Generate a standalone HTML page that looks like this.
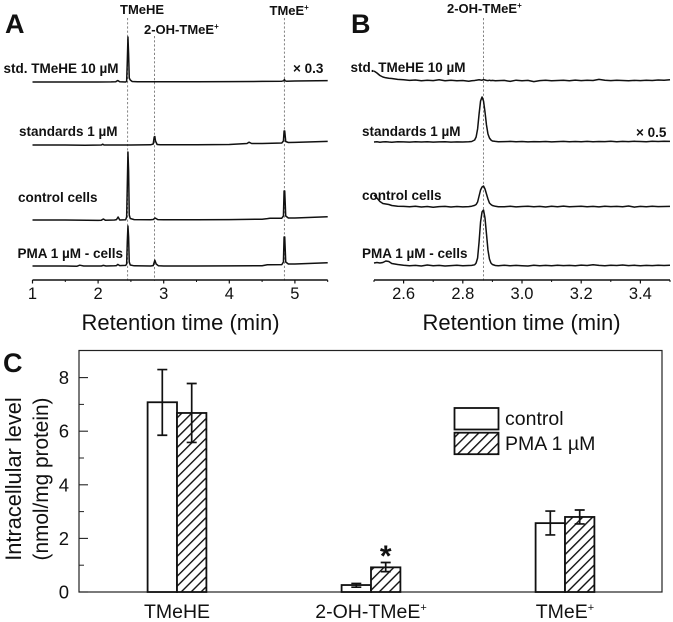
<!DOCTYPE html>
<html>
<head>
<meta charset="utf-8">
<title>Retention time chromatograms and intracellular levels</title>
<style>
html,body{margin:0;padding:0;background:#fff;width:673px;height:622px;overflow:hidden}
svg{display:block}
text{font-family:"Liberation Sans",sans-serif;fill:#111}
.b{font-weight:bold;font-size:13.5px}
.top{font-weight:bold;font-size:13px}
.tick{font-size:16.5px;text-anchor:middle}
.title{font-size:22px}
.letter{font-weight:bold;font-size:27px}
.c{font-size:19.5px}
</style>
</head>
<body>
<svg id="fig" xmlns="http://www.w3.org/2000/svg" width="673" height="622" viewBox="0 0 673 622">
<defs>
<pattern id="hatch" patternUnits="userSpaceOnUse" width="7" height="7" patternTransform="rotate(45)">
<rect width="7" height="7" fill="#fff"></rect>
<line x1="0" y1="0" x2="0" y2="7" stroke="#111" stroke-width="2.8"></line>
</pattern>
</defs>
<g id="panelA"></g>
<g id="panelB"></g>
<g id="panelC"></g>

<text class="letter" x="5" y="33">A</text>
<text class="top" x="120" y="14">TMeHE</text>
<text class="top" x="144" y="34">2-OH-TMeE<tspan font-size="8" dy="-5">+</tspan></text>
<text class="top" x="269.5" y="15">TMeE<tspan font-size="8" dy="-5">+</tspan></text>
<text class="b" x="3.5" y="73">std. TMeHE 10 µM</text>
<text class="b" x="293" y="73">× 0.3</text>
<text class="b" x="19" y="136">standards 1 µM</text>
<text class="b" x="18" y="202">control cells</text>
<text class="b" x="17.5" y="258">PMA 1 µM - cells</text>
<text class="title" x="81.5" y="330">Retention time (min)</text>

<text class="letter" x="351" y="33">B</text>
<text class="top" x="447" y="13">2-OH-TMeE<tspan font-size="8" dy="-5">+</tspan></text>
<text class="b" x="350.5" y="72">std. TMeHE 10 µM</text>
<text class="b" x="362" y="136">standards 1 µM</text>
<text class="b" x="636" y="137">× 0.5</text>
<text class="b" x="362" y="200">control cells</text>
<text class="b" x="362" y="258">PMA 1 µM - cells</text>
<text class="title" x="422.5" y="330">Retention time (min)</text>

<text class="letter" x="3" y="372">C</text>
<text font-size="21.8" text-anchor="middle" transform="translate(21,479) rotate(-90)">Intracellular level</text>
<text font-size="20.8" text-anchor="middle" transform="translate(48,479) rotate(-90)">(nmol/mg protein)</text>
<text font-size="30" font-weight="bold" text-anchor="middle" x="385.7" y="566">*</text>

<g>
<rect x="454.5" y="408" width="44" height="21.5" fill="#fff" stroke="#111" stroke-width="1.8"></rect>
<rect x="454.5" y="432.7" width="44" height="21.5" fill="url(#hatch)" stroke="#111" stroke-width="1.8"></rect>
<text class="c" x="505" y="425">control</text>
<text class="c" x="505" y="450">PMA 1 µM</text>
</g>
</svg>
<script>
// ---- Panel A data ----
const aTicks = [1, 2, 3, 4, 5];
const aMinorTicks = [1.5, 2.5, 3.5, 4.5, 5.5];
const aMarkers = [2.45, 2.86, 4.84];
const aStdTimes = [1,1.5,2,2.2,2.27,2.3,2.33,2.42,2.435,2.445,2.455,2.465,2.475,2.49,2.52,2.6,3,3.5,4,4.5,4.8,4.83,4.84,4.85,4.87,5,5.5];
const aStdValues = [0,0,0,0.1,0.3,1.5,0.2,0,0.6,20,45,28,4,2,0.5,0.2,0.2,0.2,0.4,0.6,0.8,1.2,2.5,1.2,0.8,1,1.4];
const aMixTimes = [1,1.5,1.8,2.05,2.07,2.09,2.5,2.8,2.84,2.855,2.865,2.875,2.9,2.95,3,3.5,4,4.27,4.3,4.34,4.5,4.8,4.825,4.835,4.845,4.86,4.9,5,5.5];
const aMixValues = [1,1,0.8,1,1.8,1,1,1.2,2,9,9.5,5,1.5,1.2,1.2,1.2,1.5,2.5,3.8,2.5,2.5,3,5,15,15,4.5,3.5,3.6,4.6];
const aControlTimes = [1,1.5,2,2.05,2.08,2.11,2.25,2.28,2.305,2.33,2.42,2.435,2.445,2.455,2.465,2.475,2.49,2.55,2.8,2.84,2.87,2.91,3,3.5,4,4.5,4.58,4.62,4.8,4.825,4.835,4.845,4.86,4.9,5,5.5];
const aControlValues = [1,1,0.6,0.8,2,0.8,1,1.4,4,1,1.2,4,35,69,50,6,2.5,1.4,1.2,1.5,3,1.4,1.2,1.2,1.4,1.8,2.4,2.8,2.8,5,30,30,5,3,3,4.2];
const aPmaTimes = [1,1.5,1.68,1.72,1.78,2,2.05,2.08,2.12,2.25,2.28,2.3,2.33,2.42,2.435,2.445,2.455,2.465,2.475,2.49,2.55,2.8,2.84,2.865,2.885,2.92,3,3.5,4,4.5,4.58,4.62,4.8,4.825,4.835,4.845,4.86,4.9,5,5.5];
const aPmaValues = [1,1,0.8,1.8,1,1,1,1.6,1,1.2,1.4,2.6,1.4,1.6,3,25,41,30,5,2,1.2,1,1.4,6.8,3,1.2,1,1,1.1,1.3,2.2,2.2,2.4,5,30,30,5,3,3,4.3];

// ---- Panel B data ----
const bTicks = [2.6, 2.8, 3.0, 3.2, 3.4];
const bMinorTicks = [2.5, 2.7, 2.9, 3.1, 3.3, 3.5];
const bMarkers = [2.87];
const bTimes = [2.5,2.51,2.52,2.53,2.54,2.55,2.56,2.58,2.6,2.62,2.64,2.66,2.68,2.7,2.72,2.74,2.76,2.78,2.8,2.82,2.83,2.84,2.845,2.85,2.855,2.86,2.865,2.87,2.875,2.88,2.885,2.89,2.895,2.9,2.91,2.92,2.94,2.96,2.98,3,3.02,3.04,3.06,3.08,3.1,3.12,3.14,3.16,3.18,3.2,3.22,3.24,3.26,3.28,3.3,3.32,3.34,3.36,3.38,3.4,3.42,3.44,3.46,3.48,3.5];
const bStdValues = [10,8,5.5,4,3.2,2.8,2.5,1.6,1.2,0.6,1,0.2,0.8,0.4,1.2,0.3,0.8,0.2,0.5,-0.2,0.3,0.5,0.8,1,1.2,1,0.8,1.4,1,0.6,0.4,0.8,0.4,0.6,0.2,0.4,0.6,-0.4,0.8,0.3,0.6,-0.6,0.4,0.7,0.2,0.5,0.7,0.3,0.9,0.4,0.8,0.5,1.6,0.7,0.4,0.8,0.5,0.3,0.6,0.4,0.8,0.5,1,0.7,1.2];
const bMixValues = [0,0.2,-0.2,0.1,0.3,0,-0.2,0.2,0.1,-0.1,0.2,0,0.3,-0.1,0.1,0.2,-0.1,0.1,0,0.2,0.5,2,5,13,28,41,45,41,30,17,8,4,2,1,0.6,0.3,0.4,0.6,0.2,0.5,0.1,0.4,0.3,0.5,0.1,0.4,0.6,0.2,0.5,0.3,0.6,0.2,0.5,0.4,0.7,0.3,0.6,0.4,0.7,0.5,0.3,0.7,0.5,0.8,0.6];
const bControlValues = [12,9,5.5,3.5,3,2.5,1.5,0.8,0.6,0.2,0.8,0,0.5,-0.3,0.4,0.6,0,0.5,0.1,0.4,0.8,1.6,2.5,5,11,17,20,21,18,13,8,4,2.5,1.5,0.7,0.3,0.2,0.7,0.1,0.5,0.8,0.2,0.6,0,0.7,0.3,0.9,0.2,0.5,0.8,0.3,0.6,0.1,0.8,0.4,0.6,0.3,1,-0.1,0.6,0.3,0.7,0.4,0.5,0.6];
const bPmaValues = [3,3.5,3,3.5,5,4.5,2.5,1.5,0.8,0.3,0.6,0,1,0.2,0.6,0,0.4,0.8,0.2,0.5,0.6,1.2,3,8,24,44,54,56,48,32,16,7,3,1.5,0.5,0.3,0.8,0.2,0.6,0.3,0,0.7,0.3,0.6,0.2,0.8,0.4,0.6,0.2,0.9,0.5,1.2,0.6,0.3,0.8,0.5,1,0.4,0.7,0.3,0.6,0.4,0.8,0.5,0.7];

// ---- Panel C data ----
const cCategories = ['TMeHE', '2-OH-TMeE', 'TMeE'];
const cCategorySuperscripts = ['', '+', '+'];
const cControlValues = [7.08, 0.26, 2.57];
const cControlErrLow = [5.85, 0.18, 2.13];
const cControlErrHigh = [8.3, 0.32, 3.02];
const cPmaValues = [6.68, 0.92, 2.8];
const cPmaErrLow = [5.58, 0.76, 2.54];
const cPmaErrHigh = [7.78, 1.1, 3.06];
const cYTicks = [0, 2, 4, 6, 8];
const cYMinorTicks = [1, 3, 5, 7];

// ---- Helpers and scales ----
const NS = 'http://www.w3.org/2000/svg';
function mk(parent, tag, attrs) {
  const el = document.createElementNS(NS, tag);
  for (const k in attrs) el.setAttribute(k, attrs[k]);
  parent.appendChild(el);
  return el;
}
const INK = '#111';
const xA = t => 32.5 + (t - 1) * 65.6;
const xB = t => 374 + (t - 2.5) * 296;
const yC = v => 592 - v * 26.8;
const xC = i => 177 + i * 194;
const laneA = [82, 146, 221, 267];
const laneB = [81, 142, 207, 266];
const AXIS_Y = 280;

function drawAxis(g, prefix, x, ticks, minor, lo, hi, dec) {
  const axis = mk(g, 'line', {x1: x(lo), x2: x(hi), y1: AXIS_Y, y2: AXIS_Y, stroke: INK, 'stroke-width': 1.5});
  
  
  ticks.forEach(t => {
    const m = mk(g, 'line', {x1: x(t), x2: x(t), y1: AXIS_Y, y2: AXIS_Y + 3.5, stroke: INK, 'stroke-width': 1.2});
    
    
    const l = mk(g, 'text', {x: x(t), y: 299, class: 'tick'});
    l.textContent = t.toFixed(dec);
    
    
  });
  minor.forEach(t => {
    const m = mk(g, 'line', {x1: x(t), x2: x(t), y1: AXIS_Y, y2: AXIS_Y + 2, stroke: INK, 'stroke-width': 1});
    
    
  });
}
function drawMarker(g, prefix, x, t, top) {
  const d = mk(g, 'line', {x1: x(t), x2: x(t), y1: top, y2: AXIS_Y + 1, stroke: '#777', 'stroke-width': 0.9, 'stroke-dasharray': '2.2 2'});
  
  
}
function drawTrace(g, name, x, times, values, base) {
  const pts = times.map((t, i) => x(t).toFixed(2) + ',' + (base - values[i]).toFixed(2)).join(' ');
  const p = mk(g, 'polyline', {points: pts, fill: 'none', stroke: INK, 'stroke-width': 1.5, 'stroke-linejoin': 'round'});
  
  
}

// ---- Panel A ----
const gA = document.getElementById('panelA');
aMarkers.forEach((t, i) => drawMarker(gA, 'a', xA, t, i === 1 ? 36 : 18));
drawAxis(gA, 'a', xA, aTicks, aMinorTicks, 1, 5.5, 0);
drawTrace(gA, 'a-trace-std', xA, aStdTimes, aStdValues, laneA[0]);
drawTrace(gA, 'a-trace-standards', xA, aMixTimes, aMixValues, laneA[1]);
drawTrace(gA, 'a-trace-control', xA, aControlTimes, aControlValues, laneA[2]);
drawTrace(gA, 'a-trace-pma', xA, aPmaTimes, aPmaValues, laneA[3]);

// ---- Panel B ----
const gB = document.getElementById('panelB');
bMarkers.forEach(t => drawMarker(gB, 'b', xB, t, 18));
drawAxis(gB, 'b', xB, bTicks, bMinorTicks, 2.5, 3.5, 1);
drawTrace(gB, 'b-trace-std', xB, bTimes, bStdValues, laneB[0]);
drawTrace(gB, 'b-trace-standards', xB, bTimes, bMixValues, laneB[1]);
drawTrace(gB, 'b-trace-control', xB, bTimes, bControlValues, laneB[2]);
drawTrace(gB, 'b-trace-pma', xB, bTimes, bPmaValues, laneB[3]);

// ---- Panel C ----
const gC = document.getElementById('panelC');
const BAR_W = 29.4, CAP = 5;
const frame = mk(gC, 'rect', {x: 79, y: 350.5, width: 583, height: 241.5, fill: 'none', stroke: '#222', 'stroke-width': 1.2});


cYTicks.forEach(v => {
  const m = mk(gC, 'line', {x1: 79, x2: 88, y1: yC(v), y2: yC(v), stroke: '#222', 'stroke-width': 1.1});
  
  
  const l = mk(gC, 'text', {x: 69, y: yC(v) + 6.5, 'font-size': 18.5, 'text-anchor': 'end'});
  l.textContent = v;
  
  
});
cYMinorTicks.forEach(v => {
  const m = mk(gC, 'line', {x1: 79, x2: 84, y1: yC(v), y2: yC(v), stroke: '#222', 'stroke-width': 1});
  
  
});
function drawBar(name, left, v, lo, hi, fill) {
  const r = mk(gC, 'rect', {x: left, y: yC(v), width: BAR_W, height: yC(0) - yC(v), fill: fill, stroke: INK, 'stroke-width': 1.8});
  
  
  const cx = left + BAR_W / 2;
  const e = mk(gC, 'path', {d: 'M' + cx + ' ' + yC(lo) + 'V' + yC(hi) + 'M' + (cx - CAP) + ' ' + yC(hi) + 'H' + (cx + CAP) + 'M' + (cx - CAP) + ' ' + yC(lo) + 'H' + (cx + CAP), fill: 'none', stroke: INK, 'stroke-width': 1.7});
  
  
}
cCategories.forEach((c, i) => {
  drawBar('bar-control-' + i, xC(i) - BAR_W, cControlValues[i], cControlErrLow[i], cControlErrHigh[i], '#fff');
  drawBar('bar-pma-' + i, xC(i), cPmaValues[i], cPmaErrLow[i], cPmaErrHigh[i], 'url(#hatch)');
  const l = mk(gC, 'text', {x: xC(i), y: 618, 'font-size': 19.5, 'text-anchor': 'middle'});
  l.textContent = c;
  if (cCategorySuperscripts[i]) {
    const s = mk(l, 'tspan', {'font-size': 11, dy: -7});
    s.textContent = cCategorySuperscripts[i];
  }
  
  
});
</script>
</body>
</html>
